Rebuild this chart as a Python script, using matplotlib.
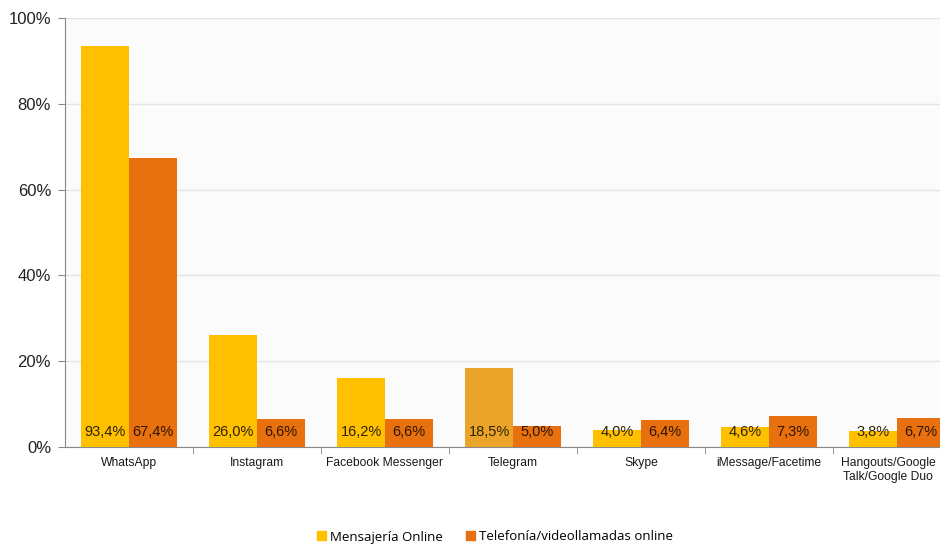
import matplotlib
matplotlib.use("Agg")
import matplotlib.pyplot as plt
import matplotlib.transforms as mtransforms
import numpy as np
from matplotlib.patches import Patch

categories = ["WhatsApp", "Instagram", "Facebook Messenger", "Telegram", "Skype",
              "iMessage/Facetime", "Hangouts/Google\nTalk/Google Duo"]
mensajeria = [93.4, 26.0, 16.2, 18.5, 4.0, 4.6, 3.8]
telefonia = [67.4, 6.6, 6.6, 5.0, 6.4, 7.3, 6.7]
series_names = ["Mensajería Online", "Telefonía/videollamadas online"]
yticks = [0, 20, 40, 60, 80, 100]

YELLOW = "#FFC000"
YELLOW_ALT = "#EBA42A"
ORANGE = "#E8700E"

plt.rcParams['font.family'] = ['Liberation Sans', 'DejaVu Sans']

fig = plt.figure(figsize=(9.4, 5.45), dpi=100)
W, H = 940, 545
left, right, top, bottom = 65, 961, 18, 447
ax = fig.add_axes([left / W, 1 - bottom / H, (right - left) / W, (bottom - top) / H])
ax.set_facecolor("#FBFBFB")

x = np.arange(len(categories))
bw = 0.375
ycolors = [YELLOW] * len(categories)
ycolors[3] = YELLOW_ALT
ax.bar(x - bw / 2, mensajeria, bw, color=ycolors, zorder=3)
ax.bar(x + bw / 2, telefonia, bw, color=ORANGE, zorder=3)

for xi, v in zip(x, mensajeria):
    ax.text(xi - bw / 2, 3.4, f"{v:.1f}%".replace(".", ","), ha="center", va="center",
            fontsize=10.5, color="#2e2200", zorder=4)
for xi, v in zip(x, telefonia):
    ax.text(xi + bw / 2, 3.4, f"{v:.1f}%".replace(".", ","), ha="center", va="center",
            fontsize=10.5, color="#2e1400", zorder=4)

ax.set_xlim(-0.5, len(categories) - 0.5)
ax.set_ylim(0, 100)
ax.set_yticks(yticks)
ax.set_yticklabels([f"{t}%" for t in yticks], fontsize=12, color="#222222")
ax.yaxis.grid(True, color="#E4E4E4", linewidth=1, zorder=0)
ax.tick_params(axis="y", length=5, color="#888888", pad=5)

ax.set_xticks(x)
ax.set_xticklabels(categories, fontsize=8.7, color="#1a1a1a")
ax.tick_params(axis="x", length=0, pad=7)
ax.set_xticks(np.arange(len(categories)) + 0.5, minor=True)
ax.tick_params(axis="x", which="minor", length=5, color="#888888")

# keep the last (wrapped) label inside the picture
last = ax.get_xticklabels()[-1]
last.set_transform(last.get_transform() +
                   mtransforms.ScaledTranslation(-9 / 100, 0, fig.dpi_scale_trans))

for s in ["top", "right"]:
    ax.spines[s].set_visible(False)
for s in ["left", "bottom"]:
    ax.spines[s].set_color("#888888")

handles = [Patch(color=YELLOW), Patch(color=ORANGE)]
fig.legend(handles, series_names, loc="center", bbox_to_anchor=(495 / W, 1 - 537 / H),
           ncol=2, frameon=False, prop={"family": "Open Sans", "size": 9.5},
           handlelength=0.65, handleheight=0.65, handletextpad=0.3, columnspacing=1.8)

fig.savefig("out.png", dpi=100)
